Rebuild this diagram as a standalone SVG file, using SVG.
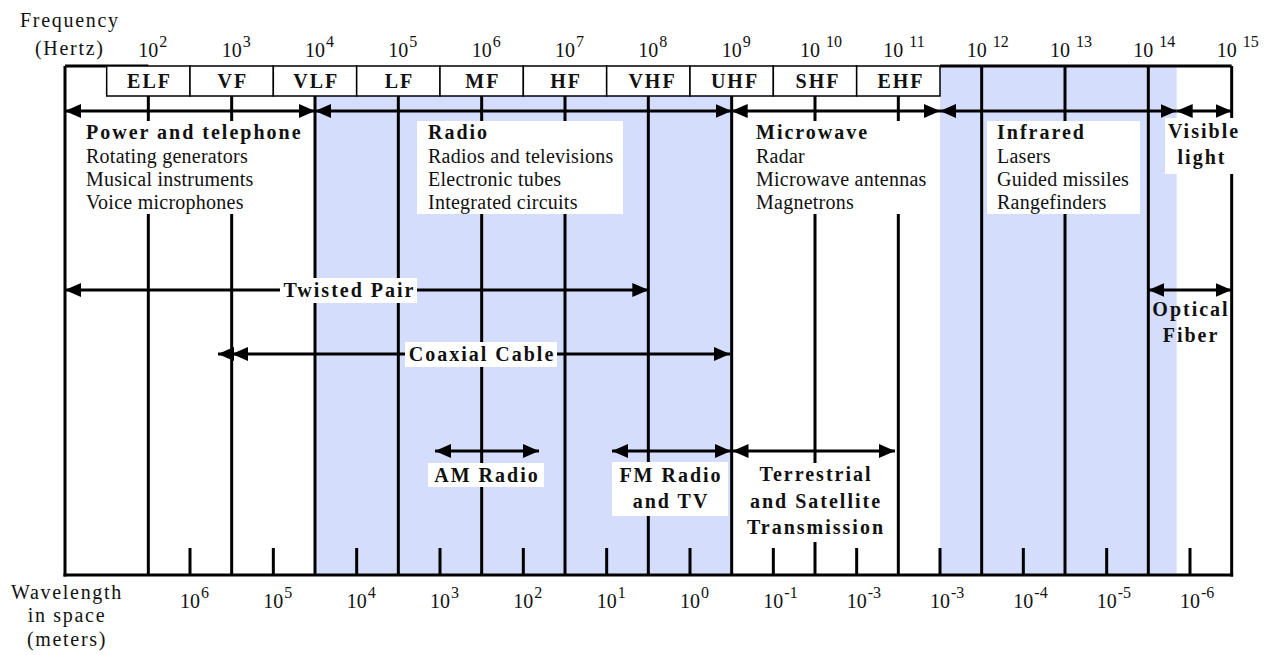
<svg xmlns="http://www.w3.org/2000/svg" width="1267" height="655" viewBox="0 0 1267 655">
<style>
.t{font-family:"Liberation Serif","Times New Roman",serif;fill:#111}
.b{font-weight:bold;font-size:20px;letter-spacing:2px}
.r{font-size:20px;letter-spacing:0.25px}
.ax{font-size:20px;letter-spacing:1.7px}
.n{font-size:20px}
.s{font-size:16px}
.m{text-anchor:middle}
.v{stroke:#000;stroke-width:3;fill:none}
.tk{stroke:#000;stroke-width:3;fill:none}
.box{fill:#fff;stroke:#000;stroke-width:1.5}
.wb{fill:#fff;stroke:none}
.shade{fill:#d4ddfb}
.arr{stroke:#000;stroke-width:3;fill:none;marker-start:url(#ah);marker-end:url(#ah)}
</style>
<defs>
<marker id="ah" viewBox="0 0 16 14" refX="16" refY="7" markerWidth="16" markerHeight="14" orient="auto-start-reverse" markerUnits="userSpaceOnUse">
<path d="M0,0 L16,7 L0,14 z" fill="#000"/>
</marker>
</defs>
<rect width="1267" height="655" fill="#fff"/>

<g id="shading">
<rect class="shade" x="315" y="66" width="416.67" height="509"/>
<rect class="shade" x="940" y="66" width="236.67" height="509"/>
</g>

<g id="grid">
<line class="v" x1="65" y1="66" x2="148.33" y2="66"/>
<line class="v" x1="940" y1="66" x2="1231.67" y2="66"/>
<line class="v" x1="65" y1="66" x2="65" y2="576.5"/>
<line class="v" x1="1231.67" y1="66" x2="1231.67" y2="576.5"/>
<line class="v" x1="63.5" y1="575" x2="1233.17" y2="575"/>
<line class="v" x1="148.33" y1="96" x2="148.33" y2="575"/>
<line class="v" x1="231.67" y1="96" x2="231.67" y2="575"/>
<line class="v" x1="315" y1="96" x2="315" y2="575"/>
<line class="v" x1="398.33" y1="96" x2="398.33" y2="575"/>
<line class="v" x1="481.67" y1="96" x2="481.67" y2="575"/>
<line class="v" x1="565" y1="96" x2="565" y2="575"/>
<line class="v" x1="648.33" y1="96" x2="648.33" y2="575"/>
<line class="v" x1="731.67" y1="96" x2="731.67" y2="575"/>
<line class="v" x1="815" y1="96" x2="815" y2="575"/>
<line class="v" x1="898.33" y1="96" x2="898.33" y2="575"/>
<line class="v" x1="981.67" y1="66" x2="981.67" y2="575"/>
<line class="v" x1="1065" y1="66" x2="1065" y2="575"/>
<line class="v" x1="1148.33" y1="66" x2="1148.33" y2="575"/>
<g id="ticks">
<line class="tk" x1="190" y1="548" x2="190" y2="575"/>
<line class="tk" x1="273.33" y1="548" x2="273.33" y2="575"/>
<line class="tk" x1="356.67" y1="548" x2="356.67" y2="575"/>
<line class="tk" x1="440" y1="548" x2="440" y2="575"/>
<line class="tk" x1="523.33" y1="548" x2="523.33" y2="575"/>
<line class="tk" x1="606.67" y1="548" x2="606.67" y2="575"/>
<line class="tk" x1="690" y1="548" x2="690" y2="575"/>
<line class="tk" x1="773.33" y1="548" x2="773.33" y2="575"/>
<line class="tk" x1="856.67" y1="548" x2="856.67" y2="575"/>
<line class="tk" x1="940" y1="548" x2="940" y2="575"/>
<line class="tk" x1="1023.33" y1="548" x2="1023.33" y2="575"/>
<line class="tk" x1="1106.67" y1="548" x2="1106.67" y2="575"/>
<line class="tk" x1="1190" y1="548" x2="1190" y2="575"/>
</g>
</g>

<g id="bands">
<g id="band-elf"><rect class="box" x="106.67" y="66" width="83.33" height="30"/><text class="t b m" x="149.5" y="88">ELF</text></g>
<g id="band-vf"><rect class="box" x="190" y="66" width="83.33" height="30"/><text class="t b m" x="232.8" y="88">VF</text></g>
<g id="band-vlf"><rect class="box" x="273.33" y="66" width="83.33" height="30"/><text class="t b m" x="316.2" y="88">VLF</text></g>
<g id="band-lf"><rect class="box" x="356.67" y="66" width="83.33" height="30"/><text class="t b m" x="399.5" y="88">LF</text></g>
<g id="band-mf"><rect class="box" x="440" y="66" width="83.33" height="30"/><text class="t b m" x="482.8" y="88">MF</text></g>
<g id="band-hf"><rect class="box" x="523.33" y="66" width="83.33" height="30"/><text class="t b m" x="566.2" y="88">HF</text></g>
<g id="band-vhf"><rect class="box" x="606.67" y="66" width="83.33" height="30"/><text class="t b m" x="652.5" y="88">VHF</text></g>
<g id="band-uhf"><rect class="box" x="690" y="66" width="83.33" height="30"/><text class="t b m" x="735" y="88">UHF</text></g>
<g id="band-shf"><rect class="box" x="773.33" y="66" width="83.33" height="30"/><text class="t b m" x="818" y="88">SHF</text></g>
<g id="band-ehf"><rect class="box" x="856.67" y="66" width="83.33" height="30"/><text class="t b m" x="901" y="88">EHF</text></g>
</g>

<g id="axis-labels">
<text class="t ax" x="20" y="27">Frequency</text>
<text class="t ax" x="35" y="55">(Hertz)</text>
<text class="t ax m" x="67" y="599">Wavelength</text>
<text class="t ax m" x="67" y="622">in space</text>
<text class="t ax m" x="67" y="646">(meters)</text>
</g>

<g id="freq-scale">
<text class="t n" x="138.33" y="57">10<tspan class="s" dx="1" dy="-10">2</tspan></text>
<text class="t n" x="221.67" y="57">10<tspan class="s" dx="1" dy="-10">3</tspan></text>
<text class="t n" x="305" y="57">10<tspan class="s" dx="1" dy="-10">4</tspan></text>
<text class="t n" x="388.33" y="57">10<tspan class="s" dx="1" dy="-10">5</tspan></text>
<text class="t n" x="471.67" y="57">10<tspan class="s" dx="1" dy="-10">6</tspan></text>
<text class="t n" x="555" y="57">10<tspan class="s" dx="1" dy="-10">7</tspan></text>
<text class="t n" x="638.33" y="57">10<tspan class="s" dx="1" dy="-10">8</tspan></text>
<text class="t n" x="721.67" y="57">10<tspan class="s" dx="1" dy="-10">9</tspan></text>
<text class="t n" x="800" y="57">10<tspan class="s" dx="6" dy="-10">10</tspan></text>
<text class="t n" x="883.33" y="57">10<tspan class="s" dx="6" dy="-10">11</tspan></text>
<text class="t n" x="966.67" y="57">10<tspan class="s" dx="6" dy="-10">12</tspan></text>
<text class="t n" x="1050" y="57">10<tspan class="s" dx="6" dy="-10">13</tspan></text>
<text class="t n" x="1133.33" y="57">10<tspan class="s" dx="6" dy="-10">14</tspan></text>
<text class="t n" x="1216.67" y="57">10<tspan class="s" dx="6" dy="-10">15</tspan></text>
</g>

<g id="wave-scale">
<text class="t n" x="180" y="608">10<tspan class="s" dx="1" dy="-10">6</tspan></text>
<text class="t n" x="263.33" y="608">10<tspan class="s" dx="1" dy="-10">5</tspan></text>
<text class="t n" x="346.67" y="608">10<tspan class="s" dx="1" dy="-10">4</tspan></text>
<text class="t n" x="430" y="608">10<tspan class="s" dx="1" dy="-10">3</tspan></text>
<text class="t n" x="513.33" y="608">10<tspan class="s" dx="1" dy="-10">2</tspan></text>
<text class="t n" x="596.67" y="608">10<tspan class="s" dx="1" dy="-10">1</tspan></text>
<text class="t n" x="680" y="608">10<tspan class="s" dx="1" dy="-10">0</tspan></text>
<text class="t n" x="763.33" y="608">10<tspan class="s" dx="1" dy="-10">-1</tspan></text>
<text class="t n" x="846.67" y="608">10<tspan class="s" dx="1" dy="-10">-3</tspan></text>
<text class="t n" x="930" y="608">10<tspan class="s" dx="1" dy="-10">-3</tspan></text>
<text class="t n" x="1013.33" y="608">10<tspan class="s" dx="1" dy="-10">-4</tspan></text>
<text class="t n" x="1096.67" y="608">10<tspan class="s" dx="1" dy="-10">-5</tspan></text>
<text class="t n" x="1180" y="608">10<tspan class="s" dx="1" dy="-10">-6</tspan></text>
</g>

<g id="connectors">
<line class="arr" x1="65" y1="111" x2="315" y2="111"/>
<line class="arr" x1="315" y1="111" x2="731.67" y2="111"/>
<line class="arr" x1="731.67" y1="111" x2="940" y2="111"/>
<line class="arr" x1="940" y1="111" x2="1176.67" y2="111"/>
<line class="arr" x1="1176.67" y1="111" x2="1231.67" y2="111"/>
<line class="arr" x1="65" y1="290" x2="648.33" y2="290"/>
<line class="arr" x1="218" y1="354" x2="730" y2="354"/>
<path d="M232,354 L248,347 L248,361 z" fill="#000"/>
<line class="arr" x1="1148.33" y1="290" x2="1231.67" y2="290"/>
<line class="arr" x1="435" y1="451" x2="539" y2="451"/>
<line class="arr" x1="612" y1="451" x2="731" y2="451"/>
<line class="arr" x1="732.5" y1="451" x2="895" y2="451"/>
</g>

<g id="power">
<rect class="wb" x="80" y="121" width="229" height="93"/>
<text class="t b" x="86" y="139">Power and telephone</text>
<text class="t r" x="86" y="163">Rotating generators</text>
<text class="t r" x="86" y="186">Musical instruments</text>
<text class="t r" x="86" y="209">Voice microphones</text>
</g>
<g id="radio">
<rect class="wb" x="417" y="121" width="206" height="93"/>
<text class="t b" x="428" y="139">Radio</text>
<text class="t r" x="428" y="163">Radios and televisions</text>
<text class="t r" x="428" y="186">Electronic tubes</text>
<text class="t r" x="428" y="209">Integrated circuits</text>
</g>
<g id="microwave">
<rect class="wb" x="742" y="121" width="194" height="93"/>
<text class="t b" x="756" y="139">Microwave</text>
<text class="t r" x="756" y="163">Radar</text>
<text class="t r" x="756" y="186">Microwave antennas</text>
<text class="t r" x="756" y="209">Magnetrons</text>
</g>
<g id="infrared">
<rect class="wb" x="987" y="121" width="153" height="93"/>
<text class="t b" x="997" y="139">Infrared</text>
<text class="t r" x="997" y="163">Lasers</text>
<text class="t r" x="997" y="186">Guided missiles</text>
<text class="t r" x="997" y="209">Rangefinders</text>
</g>
<g id="visible">
<rect class="wb" x="1165" y="118" width="72" height="56"/>
<text class="t b m" x="1204" y="138">Visible</text>
<text class="t b m" x="1202" y="164">light</text>
</g>
<g id="twisted-pair">
<rect class="wb" x="280" y="278" width="137" height="25"/>
<text class="t b m" x="349.5" y="297">Twisted Pair</text>
</g>
<g id="coaxial">
<rect class="wb" x="405" y="342" width="152" height="25"/>
<text class="t b m" x="482" y="361">Coaxial Cable</text>
</g>
<g id="optical">
<text class="t b m" x="1191" y="316">Optical</text>
<text class="t b m" x="1191" y="342">Fiber</text>
</g>
<g id="am-radio">
<rect class="wb" x="428" y="463" width="116" height="24"/>
<text class="t b m" x="487" y="482">AM Radio</text>
</g>
<g id="fm-radio">
<rect class="wb" x="612" y="462" width="116" height="54"/>
<text class="t b m" x="671" y="482">FM Radio</text>
<text class="t b m" x="671" y="508">and TV</text>
</g>
<g id="terrestrial">
<rect class="wb" x="745" y="463" width="140" height="79"/>
<text class="t b m" x="816" y="481">Terrestrial</text>
<text class="t b m" x="816" y="508">and Satellite</text>
<text class="t b m" x="816" y="534">Transmission</text>
</g>
</svg>
